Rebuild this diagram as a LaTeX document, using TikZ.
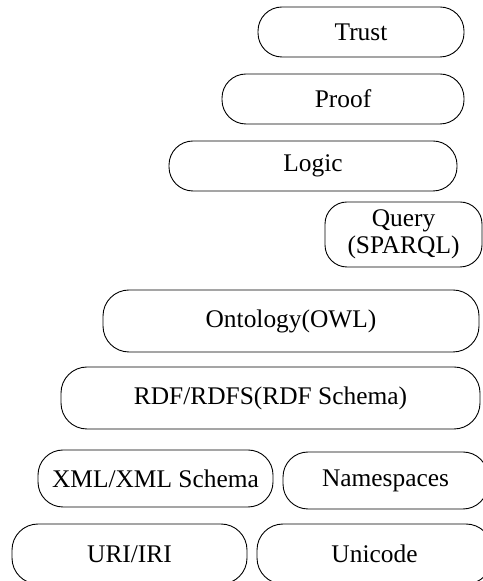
\documentclass[tikz,border=0pt]{standalone}
\usepackage{fontspec}
\setmainfont{Liberation Serif}
\begin{document}
\begin{tikzpicture}[x=1bp,y=1bp,
  layer/.style={draw=black, line width=0.9bp, rounded corners=#1, inner sep=0pt,
    align=center, font=\fontsize{25.4bp}{27bp}\selectfont},
  layer/.default=24bp]
\useasboundingbox (0,0) rectangle (483,581);
\clip (0,0) rectangle (483,581);
% y = 581 - pixel y
\node[layer, minimum width=206bp, minimum height=50bp] (trust) at (361,549) {Trust};
\node[layer, minimum width=242bp, minimum height=50bp] (proof) at (343,482) {Proof};
\node[layer, minimum width=288bp, minimum height=50bp] (logic) at (313,415) {Logic};
\node[layer=22bp, minimum width=157bp, minimum height=65bp] (query) at (403.5,346.5) {Query\\(SPARQL)};
\node[layer=26bp, minimum width=376bp, minimum height=62bp] (owl) at (291,260) {Ontology(OWL)};
\node[layer=26bp, minimum width=419bp, minimum height=62bp] (rdf) at (270.5,183) {RDF/RDFS(RDF Schema)};
\node[layer=25bp, minimum width=235bp, minimum height=57bp] (xml) at (155.5,102.5) {XML/XML Schema};
\node[layer=25bp, minimum width=205bp, minimum height=57bp] (ns) at (385.5,100.5) {Namespaces};
\node[layer=26bp, minimum width=235bp, minimum height=60bp] (uri) at (129.5,27) {URI/IRI};
\node[layer=26bp, minimum width=235bp, minimum height=60bp] (uni) at (374.5,27) {Unicode};
\end{tikzpicture}
\end{document}
